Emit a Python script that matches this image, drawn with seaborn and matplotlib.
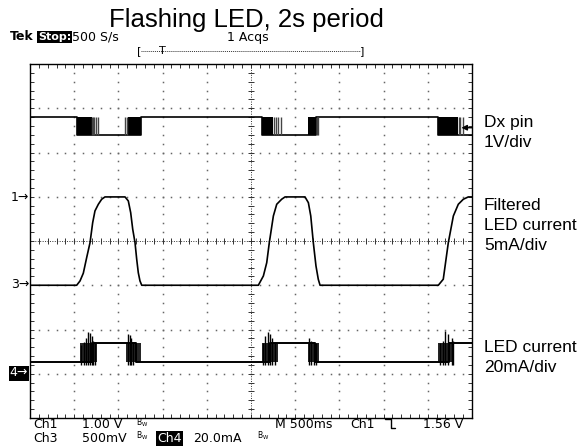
import numpy as np
import pandas as pd
import seaborn as sns
import matplotlib.pyplot as plt
from matplotlib.lines import Line2D

# scope settings: 500 ms/div (10 div), Ch1 1 V/div, Ch3 5 mA/div, Ch4 20 mA/div
# channel ground markers in divisions from the bottom of the screen
ch1_gnd, ch3_gnd, ch4_gnd = 5, 3, 1
trig_level = 1.56

# Ch3: filtered LED current (mA)
filt_t = [0.0, 0.528, 0.566, 0.603, 0.641, 0.679, 0.709, 0.735, 0.773, 0.811, 0.848,
          1.075, 1.112, 1.139, 1.162, 1.188, 1.207, 1.225, 1.244, 1.264,
          2.583, 2.640, 2.678, 2.707, 2.753, 2.791, 2.847, 2.885,
          3.111, 3.149, 3.176, 3.205, 3.235, 3.261, 3.281,
          4.619, 4.675, 4.732, 4.789, 4.845, 4.902, 4.958, 5.0]
filt_ma = [0, 0, 0.49, 1.36, 3.12, 4.81, 7.07, 8.40, 9.15, 9.72, 9.98,
           9.98, 9.53, 8.20, 6.33, 4.81, 2.94, 1.42, 0.49, 0,
           0, 1.05, 2.55, 4.81, 7.83, 9.15, 9.72, 9.98,
           9.98, 9.33, 7.83, 4.81, 2.18, 0.68, 0,
           0, 0.68, 4.81, 7.83, 9.15, 9.72, 9.98, 9.98]

# Ch1: Dx pin (V), starts high, toggles at these times
dx_hi, dx_lo = 1.8, 1.4
dx_toggle = [0.528, 1.256, 2.621, 3.235, 4.619]
dx_dense = [(0.528, 0.698), (1.112, 1.256), (2.621, 2.753), (3.149, 3.235), (4.619, 4.845)]
dx_sparse = [0.698, 0.712, 0.724, 0.747, 0.773, 1.075, 1.094,
             2.764, 2.783, 2.809, 2.836, 3.243, 3.261, 4.853, 4.864, 4.895]

# Ch4: LED current (mA), starts low
led_lo, led_hi = 5.2, 14.0
led_toggle = [0.70, 1.20, 2.72, 3.22, 4.74]
led_band = [(0.56, 0.76), (1.09, 1.26), (2.62, 2.80), (3.14, 3.27), (4.62, 4.80)]
led_spike_t = [0.58, 0.61, 0.633, 0.656, 0.679, 0.701, 0.713, 0.735, 1.109, 1.131, 1.143, 1.17,
               2.64, 2.66, 2.69, 2.72, 2.74, 2.77, 3.156, 3.18, 3.21, 3.24,
               4.64, 4.67, 4.70, 4.73, 4.77, 4.79]
led_spike_top = [13, 14.5, 16, 19, 18.5, 17, 15, 14.5, 18, 17.5, 16, 14.5,
                 14, 17, 19, 18, 16, 14.5, 16, 15, 14.5, 14,
                 14, 15, 19.5, 18, 16, 15]


def step_trace(toggles, first, second, t_end=5.0):
    t, v = [0.0], [first]
    level = first
    for tt in toggles:
        t += [tt, tt]
        v += [level, second if level == first else first]
        level = v[-1]
    t.append(t_end)
    v.append(level)
    return np.array(t), np.array(v)


sns.set_theme(style="white")
plt.rcParams['font.family'] = ['DejaVu Sans']
plt.rcParams['text.color'] = 'black'

W, H = 578, 446
fig = plt.figure(figsize=(W / 100, H / 100), dpi=100)
ax = fig.add_axes([30 / W, 1 - 418 / H, 442 / W, 354 / H])
ax.set_xlim(0, 5)
ax.set_ylim(0, 8)

# graticule
ax.set_xticks(np.round(np.arange(0, 5.001, 0.1), 2))
ax.set_yticks(np.round(np.arange(0, 8.001, 0.2), 2))
ax.tick_params(direction='in', length=3, width=0.7, colors='#333', top=True, right=True,
               bottom=True, left=True, labelbottom=False, labelleft=False)
for sp in ax.spines.values():
    sp.set_color('black')
    sp.set_linewidth(1.0)

minor_x = np.arange(1, 50) * 0.1
minor_y = np.arange(1, 40) * 0.2
for xv in [0.5, 1, 1.5, 2, 3, 3.5, 4, 4.5]:
    ax.plot(np.full(len(minor_y), xv), minor_y, ls='none', marker='s', ms=1.1, mew=0, color='#666')
for yv in [1, 2, 3, 5, 6, 7]:
    ax.plot(minor_x, np.full(len(minor_x), yv), ls='none', marker='s', ms=1.1, mew=0, color='#666')
ax.axvline(2.5, ls=(0, (1, 1.5)), lw=0.7, color='#333')
ax.axhline(4, ls=(0, (1, 1.5)), lw=0.7, color='#333')
ax.plot(np.full(len(minor_y), 2.5), minor_y, ls='none', marker='_', ms=5, mew=0.7, color='#333')
ax.plot(minor_x, np.full(len(minor_x), 4), ls='none', marker='|', ms=5, mew=0.7, color='#333')

# Ch3 filtered current
df3 = pd.DataFrame({'t': filt_t, 'div': ch3_gnd + np.array(filt_ma) / 5})
sns.lineplot(data=df3, x='t', y='div', ax=ax, color='black', lw=1.2, estimator=None, sort=False, zorder=5)

# Ch1 Dx pin
t1, v1 = step_trace(dx_toggle, dx_hi, dx_lo)
sns.lineplot(x=t1, y=ch1_gnd + v1, ax=ax, color='black', lw=1.2, estimator=None, sort=False, zorder=5)
for a, b in dx_dense:
    ax.fill_between([a, b], ch1_gnd + dx_lo, ch1_gnd + dx_hi, color='black', lw=0, zorder=5)
ax.vlines(dx_sparse, ch1_gnd + dx_lo, ch1_gnd + dx_hi, color='#444', lw=1.0, zorder=5)

# Ch4 LED current
t4, v4 = step_trace(led_toggle, led_lo, led_hi)
sns.lineplot(x=t4, y=ch4_gnd + v4 / 20, ax=ax, color='black', lw=1.4, estimator=None, sort=False, zorder=5)
for a, b in led_band:
    ax.fill_between([a, b], ch4_gnd + led_lo / 20, ch4_gnd + led_hi / 20, color='black', alpha=0.85, lw=0, zorder=5)
ax.vlines(led_spike_t, ch4_gnd + 4 / 20, ch4_gnd + np.array(led_spike_top) / 20, color='black', lw=1.0, zorder=5)

# trigger level marker on the right edge
ax.annotate('', xy=(4.88, ch1_gnd + trig_level), xytext=(5.0, ch1_gnd + trig_level),
            arrowprops=dict(arrowstyle='-|>', color='black', lw=1.0, mutation_scale=8, shrinkA=0, shrinkB=0),
            annotation_clip=False, zorder=6)
ax.set_xlabel('')
ax.set_ylabel('')


def ft(x, y, s, **kw):
    kw.setdefault('va', 'center')
    kw.setdefault('fontsize', 9)
    return fig.text(x / W, 1 - y / H, s, **kw)


inv = dict(boxstyle='square,pad=0.08', fc='black', ec='none')

ft(246, 27, 'Flashing LED, 2s period', ha='center', va='baseline', fontsize=18.5,
   family=['Liberation Sans', 'DejaVu Sans'])
ft(10, 37, 'Tek', fontweight='bold')
ft(38, 37, 'Stop:', color='white', fontweight='bold', fontsize=8, bbox=inv)
ft(72, 37, '500 S/s')
ft(227, 37, '1 Acqs')
ft(137, 51, '[', fontsize=8)
ft(360, 51, ']', fontsize=8)
fig.add_artist(Line2D([141 / W, 360 / W], [1 - 51 / H, 1 - 51 / H], ls=(0, (1, 1)), lw=0.7, color='#333'))
ft(162, 51, 'T', ha='center', fontsize=8)

# channel ground markers
ft(29, 197, '1\u2192', ha='right')
ft(29, 285, '3\u2192', ha='right')
ft(28, 373, '4\u2192', ha='right', color='white', bbox=inv)

# right side labels
lab = dict(fontsize=12.5, family=['Liberation Sans', 'DejaVu Sans'])
ft(484, 123, 'Dx pin', **lab)
ft(484, 143, '1V/div', **lab)
ft(484, 205, 'Filtered', **lab)
ft(484, 225, 'LED current', **lab)
ft(484, 245, '5mA/div', **lab)
ft(484, 347, 'LED current', **lab)
ft(484, 367, '20mA/div', **lab)

# bottom readout
bw = r'$\mathregular{B_W}$'
ft(33, 425, 'Ch1')
ft(82, 425, '1.00 V')
ft(136, 423, bw, fontsize=5.5)
ft(33, 438, 'Ch3')
ft(82, 438, '500mV')
ft(136, 436, bw, fontsize=5.5)
ft(157, 438, 'Ch4', color='white', bbox=inv)
ft(193, 438, '20.0mA')
ft(257, 436, bw, fontsize=5.5)
ft(275, 424, 'M 500ms')
ft(350, 424, 'Ch1')
ft(423, 424, '1.56 V')
fig.add_artist(Line2D([385 / W, 391 / W, 391 / W, 395 / W],
                      [1 - 419 / H, 1 - 419 / H, 1 - 428 / H, 1 - 428 / H], lw=1.0, color='black'))

fig.savefig('out.png', dpi=100, facecolor='white')
